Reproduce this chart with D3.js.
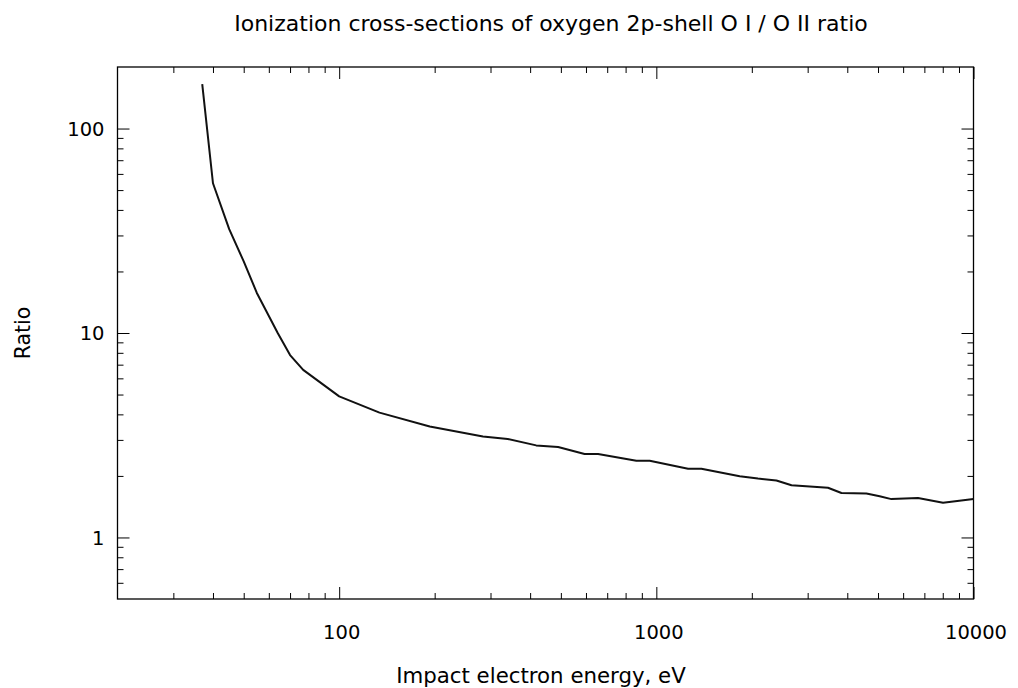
<!DOCTYPE html>
<html>
<head>
<meta charset="utf-8">
<script src="https://cdn.jsdelivr.net/npm/d3@7"></script>
<style>
  html, body { margin: 0; padding: 0; background: #fff; }
  svg { display: block; }
  text { font-family: "DejaVu Sans", Verdana, sans-serif; fill: #000; }
</style>
</head>
<body>
<svg id="chart" width="1018" height="688"></svg>
<script>
// ---- data ----
const energy = [37, 40, 45, 50, 55, 64, 70, 77, 100, 134, 193, 284, 340, 418, 490, 594, 655, 865, 953,
                1259, 1387, 1832, 2091, 2391, 2668, 3477, 3834, 4596, 5060, 5510, 6683, 8017, 10000];
const ratio  = [165, 54, 32.2, 22.4, 15.7, 10.0, 7.8, 6.6, 4.9, 4.08, 3.49, 3.12, 3.03, 2.82, 2.77, 2.56, 2.56, 2.37, 2.37,
                2.17, 2.17, 1.99, 1.94, 1.90, 1.80, 1.75, 1.65, 1.64, 1.59, 1.54, 1.56, 1.48, 1.54];
const xDomain = [20, 10000];
const yDomain = [0.5, 200];
const xMajorTicks = [100, 1000, 10000];
const xMinorTicks = [30, 40, 50, 60, 70, 80, 90, 200, 300, 400, 500, 600, 700, 800, 900,
                     2000, 3000, 4000, 5000, 6000, 7000, 8000, 9000];
const yMajorTicks = [1, 10, 100];
const yMinorTicks = [0.6, 0.7, 0.8, 0.9, 2, 3, 4, 5, 6, 7, 8, 9, 20, 30, 40, 50, 60, 70, 80, 90];
const titleText = "Ionization cross-sections of oxygen 2p-shell O I / O II ratio";
const xLabel = "Impact electron energy, eV";
const yLabel = "Ratio";

// ---- layout ----
const svg = d3.select("#chart");
const L = 117.5, R = 973.5, T = 67, B = 599;
const x = d3.scaleLog().domain(xDomain).range([L, R]);
const y = d3.scaleLog().domain(yDomain).range([B, T]);
const majorLen = 12, minorLen = 6;

const axisStyle = g => g.call(s => s.select(".domain").remove())
                        .selectAll("line").attr("stroke", "#000").attr("stroke-width", 1);

// bottom & top ticks (inward)
function xTicks(vals, len, withLabels) {
  svg.append("g").attr("transform", `translate(0,${B})`)
    .call(d3.axisBottom(x).tickValues(vals).tickSizeInner(-len).tickSizeOuter(0)
          .tickFormat(withLabels ? d3.format("d") : ""))
    .call(axisStyle)
    .call(g => g.selectAll("text").attr("font-size", 19.5).attr("dy", 0).attr("y", 40).attr("dx", 2));
  svg.append("g").attr("transform", `translate(0,${T})`)
    .call(d3.axisTop(x).tickValues(vals).tickSizeInner(-len).tickSizeOuter(0).tickFormat(""))
    .call(axisStyle);
}
function yTicks(vals, len, withLabels) {
  svg.append("g").attr("transform", `translate(${L},0)`)
    .call(d3.axisLeft(y).tickValues(vals).tickSizeInner(-len).tickSizeOuter(0)
          .tickFormat(withLabels ? d3.format("d") : ""))
    .call(axisStyle)
    .call(g => g.selectAll("text").attr("font-size", 19.5).attr("x", -13).attr("dy", "0.35em"));
  svg.append("g").attr("transform", `translate(${R},0)`)
    .call(d3.axisRight(y).tickValues(vals).tickSizeInner(-len).tickSizeOuter(0).tickFormat(""))
    .call(axisStyle);
}
xTicks(xMinorTicks, minorLen, false);
xTicks(xMajorTicks, majorLen, true);
yTicks(yMinorTicks, minorLen, false);
yTicks(yMajorTicks, majorLen, true);

// frame
svg.append("rect").attr("x", L).attr("y", T).attr("width", R - L).attr("height", B - T)
  .attr("fill", "none").attr("stroke", "#000").attr("stroke-width", 1.3);

// line
const line = d3.line().x((d, i) => x(energy[i])).y(d => y(d));
svg.append("path").datum(ratio).attr("d", line)
  .attr("fill", "none").attr("stroke", "#111").attr("stroke-width", 2)
  .attr("stroke-linejoin", "round");

// texts
svg.append("text").attr("x", 551).attr("y", 31).attr("text-anchor", "middle")
  .attr("font-size", 22).text(titleText);
svg.append("text").attr("x", 541).attr("y", 683).attr("text-anchor", "middle")
  .attr("font-size", 21.3).text(xLabel);
svg.append("text").attr("transform", `translate(30,${(T + B) / 2}) rotate(-90)`)
  .attr("text-anchor", "middle").attr("font-size", 20.5).text(yLabel);
</script>
</body>
</html>
